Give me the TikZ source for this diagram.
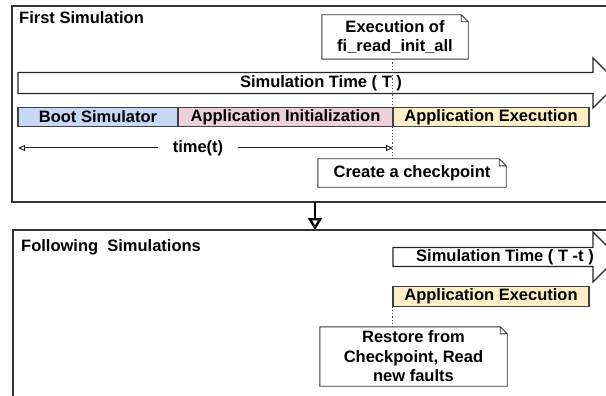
\documentclass[tikz,border=0pt]{standalone}
\usepackage{fontspec}
\setmainfont{Liberation Sans}
\usetikzlibrary{arrows.meta}

\definecolor{bootblue}{HTML}{C6D8F6}
\definecolor{initpink}{HTML}{ECD0DA}
\definecolor{execyellow}{HTML}{FCEFC6}

% outline of a note with a folded corner round a named node
\newcommand{\notefold}[1]{%
  \draw[draw=black!80, line width=0.9pt]
    (#1.south west) -- (#1.north west) -- ([xshift=-7pt]#1.north east)
    -- ([yshift=-7pt]#1.north east) -- (#1.south east) -- cycle
    ([xshift=-7pt]#1.north east) |- ([yshift=-7pt]#1.north east);}

\begin{document}
\begin{tikzpicture}[x=1pt, y=-1pt,
  font=\fontsize{16.5}{19.5}\selectfont\bfseries,
  frame/.style={draw=black!80, line width=1.3pt},
  bar/.style={draw=black!75, line width=1.2pt, minimum height=19.5pt, inner sep=0pt},
  note/.style={align=center, inner sep=0pt},
  bigarrow/.style={draw=black!85, line width=1.2pt, fill=white}]
\useasboundingbox (0,0) rectangle (606,396);
\clip (0,0) rectangle (606,396);

% First simulation frame
\draw[frame] (12,6) rectangle (625,202);
\node[anchor=west, inner sep=0] (first) at (19,18) {First Simulation};

% Simulation time arrow
\draw[bigarrow] (18,72.5) -- (593,72.5) -- (593,58) -- (618,83) -- (593,108)
  -- (593,93.5) -- (18,93.5) -- cycle;
\node[inner sep=0] (simT) at (321,83) {Simulation Time ( T )};

% Phases
\node[bar, fill=bootblue, minimum width=160pt] (boot) at (98,117) {Boot Simulator};
\node[bar, fill=initpink, minimum width=215pt] (init) at (285.5,117) {Application Initialization};
\node[bar, fill=execyellow, minimum width=196pt] (exec) at (491,117) {Application Execution};

% time(t)
\coordinate (tleft) at (18,148);
\coordinate (tright) at (393,148);
\node[inner sep=0pt, minimum width=80pt] (time) at (198,148) {time(t)};
\draw[-{Triangle[open, length=7pt, width=6pt]}, black!85, line width=1pt] (time) -- (tleft);
\draw[-{Triangle[open, length=7pt, width=6pt]}, black!85, line width=1pt] (time) -- (tright);

% Notes
\node[note, minimum width=146pt, minimum height=44pt] (fiRead) at (395,37)
  {Execution of\\fi\_read\_init\_all};
\notefold{fiRead}
\node[note, minimum width=188pt, minimum height=28pt] (ckpt) at (412,173)
  {Create a checkpoint};
\notefold{ckpt}
\draw[dotted, black!70, line width=1.2pt] (fiRead.south -| exec.west) -- (ckpt.north -| exec.west);

% to the following simulations
\draw[-{Triangle[open, length=12pt, width=14pt]}, line width=2.4pt] (315,202) -- (315,230);

% Following simulations frame
\draw[frame] (13,230) rectangle (625,410);
\node[anchor=west, inner sep=0] (following) at (21,247) {Following\ \ Simulations};

\draw[bigarrow] (393,247.5) -- (593,247.5) -- (593,232) -- (618,257) -- (593,282)
  -- (593,266.5) -- (393,266.5) -- cycle;
\node[inner sep=0] (simTt) at (505,257) {Simulation Time ( T -t )};

\node[bar, fill=execyellow, minimum width=196pt] (exec2) at (491,296.5) {Application Execution};

\node[note, minimum width=187pt, minimum height=59pt] (restore) at (413.5,356.5)
  {Restore from\\Checkpoint, Read\\new faults};
\notefold{restore}
\draw[dotted, black!70, line width=1.2pt] (exec2.south west) -- (restore.north -| exec2.west);
\end{tikzpicture}
\end{document}
